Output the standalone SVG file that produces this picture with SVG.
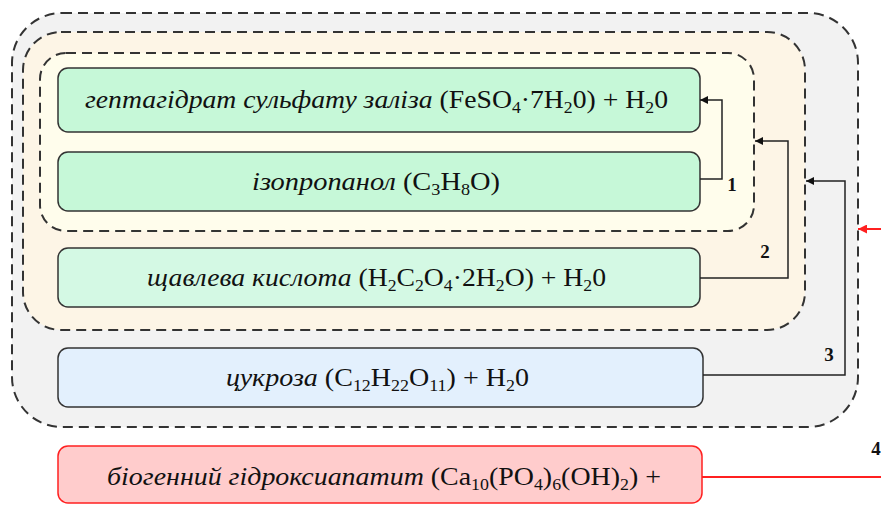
<svg xmlns="http://www.w3.org/2000/svg" width="881" height="505" viewBox="0 0 881 505">
<defs>
<style>
.grp{stroke:#333;stroke-width:2;stroke-dasharray:10 6}
.box{stroke:#333;stroke-width:1.5}
.t{font-family:"Liberation Serif","Times New Roman",serif;font-size:25px;fill:#111}
.i{font-style:italic}
.s{font-size:16px}
.num{font-family:"Liberation Serif","Times New Roman",serif;font-size:19px;font-weight:bold;fill:#111;text-anchor:middle}
.c{fill:none;stroke:#222;stroke-width:1.5}
.r{fill:none;stroke:#ff2020;stroke-width:2}
</style>
<marker id="ah" viewBox="0 0 10 10" refX="10" refY="5" markerWidth="8" markerHeight="8" markerUnits="userSpaceOnUse" orient="auto">
<path d="M0,0 L10,5 L0,10 z" fill="#111"/>
</marker>
<marker id="ahr" viewBox="0 0 10 10" refX="10" refY="5" markerWidth="9" markerHeight="9" markerUnits="userSpaceOnUse" orient="auto">
<path d="M0,0 L10,5 L0,10 z" fill="#ff2020"/>
</marker>
</defs>
<rect width="881" height="505" fill="#fff"/>
<g id="group3"><rect class="grp" x="12" y="13" width="846" height="414" rx="50" fill="#f2f2f2"/></g>
<g id="group2"><rect class="grp" x="23" y="32" width="782" height="298" rx="38" fill="#fdf5e6"/></g>
<g id="group1"><rect class="grp" x="40" y="53" width="714" height="178" rx="26" fill="#fffdec"/></g>

<g id="n1">
<rect class="box" x="58" y="68" width="642" height="64" rx="10" fill="#c6f8d8"/>
<text class="t" x="85" y="108" textLength="583" lengthAdjust="spacingAndGlyphs"><tspan class="i">гептагідрат сульфату заліза </tspan>(FeSO<tspan class="s" dy="5">4</tspan><tspan dy="-5">·7H</tspan><tspan class="s" dy="5">2</tspan><tspan dy="-5">0) + H</tspan><tspan class="s" dy="5">2</tspan><tspan dy="-5">0</tspan></text>
</g>
<g id="n2">
<rect class="box" x="58" y="152" width="642" height="59" rx="10" fill="#c6f8d8"/>
<text class="t" x="252" y="190" textLength="248" lengthAdjust="spacingAndGlyphs"><tspan class="i">ізопропанол </tspan>(C<tspan class="s" dy="5">3</tspan><tspan dy="-5">H</tspan><tspan class="s" dy="5">8</tspan><tspan dy="-5">O)</tspan></text>
</g>
<g id="n3">
<rect class="box" x="58" y="248" width="642" height="59" rx="10" fill="#d4f9e4"/>
<text class="t" x="147" y="286" textLength="459" lengthAdjust="spacingAndGlyphs"><tspan class="i">щавлева кислота </tspan>(H<tspan class="s" dy="5">2</tspan><tspan dy="-5">C</tspan><tspan class="s" dy="5">2</tspan><tspan dy="-5">O</tspan><tspan class="s" dy="5">4</tspan><tspan dy="-5">·2H</tspan><tspan class="s" dy="5">2</tspan><tspan dy="-5">O) + H</tspan><tspan class="s" dy="5">2</tspan><tspan dy="-5">0</tspan></text>
</g>
<g id="n4">
<rect class="box" x="58" y="348" width="645" height="59" rx="10" fill="#e3f0fd"/>
<text class="t" x="226" y="386" textLength="303" lengthAdjust="spacingAndGlyphs"><tspan class="i">цукроза </tspan>(C<tspan class="s" dy="5">12</tspan><tspan dy="-5">H</tspan><tspan class="s" dy="5">22</tspan><tspan dy="-5">O</tspan><tspan class="s" dy="5">11</tspan><tspan dy="-5">) + H</tspan><tspan class="s" dy="5">2</tspan><tspan dy="-5">0</tspan></text>
</g>
<g id="n5">
<rect x="58" y="446" width="644" height="57" rx="10" fill="#ffcccc" stroke="#ff2020" stroke-width="1.5"/>
<text class="t" x="107" y="485" textLength="554" lengthAdjust="spacingAndGlyphs"><tspan class="i">біогенний гідроксиапатит </tspan>(Ca<tspan class="s" dy="5">10</tspan><tspan dy="-5">(PO</tspan><tspan class="s" dy="5">4</tspan><tspan dy="-5">)</tspan><tspan class="s" dy="5">6</tspan><tspan dy="-5">(OH)</tspan><tspan class="s" dy="5">2</tspan><tspan dy="-5">) +</tspan></text>
</g>

<g id="connectors">
<polyline class="c" points="700,179 722,179 722,100 700,100" marker-end="url(#ah)"/>
<polyline class="c" points="700,278 788,278 788,141 755,141" marker-end="url(#ah)"/>
<polyline class="c" points="703,375 845,375 845,181 806,181" marker-end="url(#ah)"/>
<line class="r" x1="702" y1="477" x2="881" y2="477"/>
<line class="r" x1="881" y1="229" x2="858" y2="229" marker-end="url(#ahr)"/>
<text class="num" x="732" y="191">1</text>
<text class="num" x="765" y="258">2</text>
<text class="num" x="829" y="361">3</text>
<text class="num" x="876" y="455">4</text>
</g>
</svg>
